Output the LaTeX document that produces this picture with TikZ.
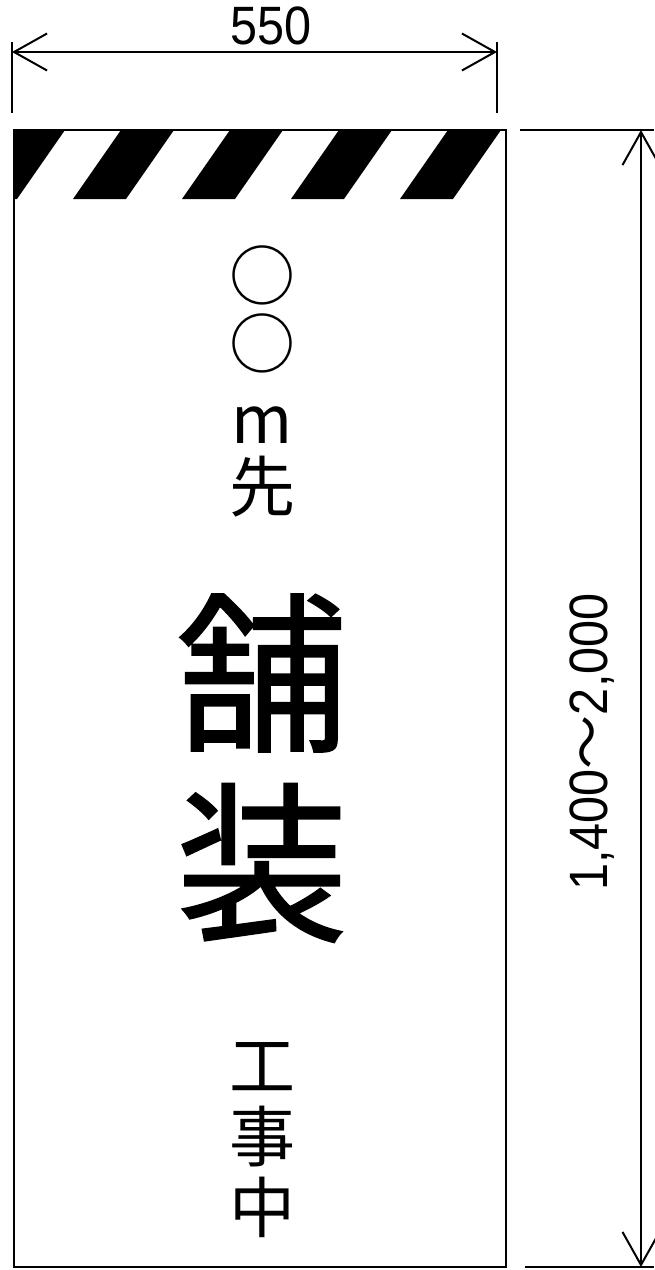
\documentclass[tikz,border=0pt]{standalone}
\usepackage{fontspec}
\usetikzlibrary{arrows.meta}
\newfontfamily\cjk{Noto Sans CJK JP}
\newfontfamily\cjkheavy[FakeBold=1]{Noto Sans CJK JP}
\newfontfamily\dimfont[FakeStretch=0.9]{Liberation Sans}
\tikzset{
  signline/.style={line width=2.5pt},
  extline/.style={line width=2pt},
  dimline/.style={line width=2pt, {Straight Barb[length=33pt,width=37pt,line width=2pt]}-{Straight Barb[length=33pt,width=37pt,line width=2pt]}},
  dimtext/.style={inner sep=0pt, font=\dimfont\fontsize{54}{54}\selectfont},
  smallchar/.style={inner sep=0pt, font=\cjk\fontsize{66}{66}\selectfont},
  bigchar/.style={inner sep=0pt, font=\cjkheavy\fontsize{172}{172}\selectfont}
}
\begin{document}
\begin{tikzpicture}[x=1pt,y=-1pt]
\useasboundingbox (0,0) rectangle (654,1270);
\fill[white] (0,0) rectangle (654,1270);
% stripes
\begin{scope}
  \clip (14,130) rectangle (506,1267);
  \foreach \i in {0,...,4}{
    \fill[black] (12+109*\i,130) -- (65+109*\i,130) -- (17+109*\i,199) -- (-36+109*\i,199) -- cycle;
  }
\end{scope}
% sign board
\draw[signline] (14,130) rectangle (506,1267);
% width dimension
\coordinate (wl) at (12,52);
\coordinate (wr) at (497,52);
\coordinate (wlt) at (12,42);
\coordinate (wlb) at (12,113);
\coordinate (wrt) at (497,42);
\coordinate (wrb) at (497,113);
\draw[extline] (wlt) -- (wlb);
\draw[extline] (wrt) -- (wrb);
\draw[dimline] (wl) -- (wr);
\node[dimtext] (wlabel) at (271,26) {550};
% height dimension
\coordinate (ht) at (641,130);
\coordinate (hb) at (641,1267);
\coordinate (htl) at (520,130);
\coordinate (htr) at (654,130);
\coordinate (hbl) at (525,1267);
\coordinate (hbr) at (654,1267);
\draw[extline] (htl) -- (htr);
\draw[extline] (hbl) -- (hbr);
\draw[dimline] (ht) -- (hb);
\node[dimtext, rotate=90] (hlabel) at (592,742) {1,400{\cjk ～}2,000};
% sign texts
\node[smallchar] (c1) at (262,275) {○};
\node[smallchar] (c2) at (262,343) {○};
\node[smallchar] (m) at (262,425) {m};
\node[smallchar] (saki) at (262,487) {先};
\node[bigchar] (ho) at (262,673) {舗};
\node[bigchar] (so) at (262,863) {装};
\node[smallchar] (ko) at (262,1067) {工};
\node[smallchar] (ji) at (262,1137) {事};
\node[smallchar] (naka) at (262,1207) {中};
\end{tikzpicture}
\end{document}
